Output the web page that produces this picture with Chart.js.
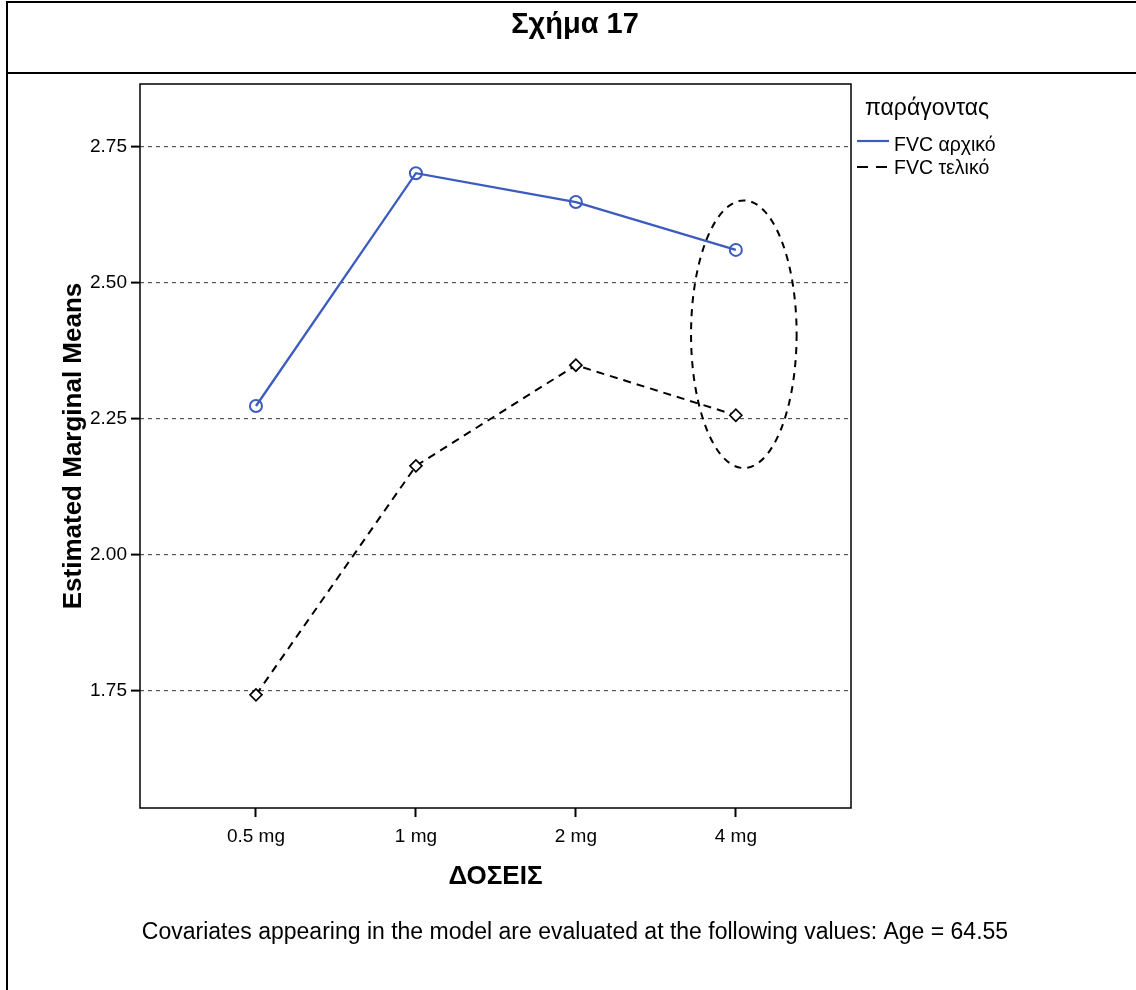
<!DOCTYPE html>
<html lang="el">
<head>
<meta charset="utf-8">
<title>Σχήμα 17</title>
<script src="https://cdn.jsdelivr.net/npm/chart.js@4.4.1/dist/chart.umd.min.js"></script>
<style>
  html, body { margin: 0; padding: 0; background: #fff; }
  canvas { display: block; }
</style>
</head>
<body>
<canvas id="emmChart" width="1136" height="990"></canvas>
<script>
// Estimated marginal means per dose, before / after
const doses = ['0.5 mg', '1 mg', '2 mg', '4 mg'];
const fvcInitial = [2.274, 2.702, 2.649, 2.561];
const fvcFinal = [1.743, 2.164, 2.349, 2.257];
const seriesNames = ['FVC αρχικό', 'FVC τελικό'];
const yTicks = [1.75, 2.00, 2.25, 2.50, 2.75];

// dashed ring drawn around the 4 mg pair (data units)
const highlight = { x: 3.05, y: 2.406, rx: 0.33, ry: 0.246 };

const FONT = 'Arial, "Liberation Sans", sans-serif';

const toPoints = vals => vals.map((v, i) => ({ x: i, y: v }));

const framePlugin = {
    id: 'frame',
    beforeDraw(chart) {
        const { ctx, width, height } = chart;
        ctx.save();
        ctx.fillStyle = '#fff';
        ctx.fillRect(0, 0, width, height);
        ctx.strokeStyle = '#000';
        ctx.lineWidth = 2;
        ctx.strokeRect(7, 2, width + 10, height + 10);
        ctx.beginPath();
        ctx.moveTo(7, 73);
        ctx.lineTo(width, 73);
        ctx.stroke();

        ctx.fillStyle = '#000';
        ctx.textAlign = 'center';
        ctx.textBaseline = 'middle';
        ctx.font = 'bold 29px ' + FONT;
        ctx.fillText('Σχήμα 17', 575, 25);
        ctx.font = '23px ' + FONT;
        ctx.fillText('Covariates appearing in the model are evaluated at the following values: Age = 64.55', 575, 933);
        ctx.restore();
    },
    afterDatasetsDraw(chart) {
        const { ctx, chartArea, scales } = chart;
        const cx = scales.x.getPixelForValue(highlight.x);
        const cy = scales.y.getPixelForValue(highlight.y);
        const rx = Math.abs(scales.x.getPixelForValue(highlight.x + highlight.rx) - cx);
        const ry = Math.abs(scales.y.getPixelForValue(highlight.y + highlight.ry) - cy);
        ctx.save();
        ctx.strokeStyle = '#000';
        ctx.lineWidth = 2;
        ctx.setLineDash([7, 6]);
        ctx.beginPath();
        ctx.ellipse(cx, cy, rx, ry, 0, 0, Math.PI * 2);
        ctx.stroke();
        ctx.restore();

        // box around the plot
        ctx.save();
        ctx.strokeStyle = '#000';
        ctx.lineWidth = 1.5;
        ctx.strokeRect(chartArea.left, chartArea.top, chartArea.right - chartArea.left, chartArea.bottom - chartArea.top);
        ctx.restore();
    },
    afterDraw(chart) {
        // legend at the right of the plot
        const { ctx, chartArea } = chart;
        const x0 = chartArea.right + 6;
        ctx.save();
        ctx.fillStyle = '#000';
        ctx.textAlign = 'left';
        ctx.textBaseline = 'middle';
        ctx.font = '23px ' + FONT;
        ctx.fillText('παράγοντας', x0 + 8, 109);
        ctx.font = '19.5px ' + FONT;
        chart.data.datasets.forEach((ds, i) => {
            const y = 141 + i * 26;
            ctx.strokeStyle = ds.borderColor;
            ctx.lineWidth = 2.2;
            ctx.setLineDash(i ? [11, 8] : []);
            ctx.beginPath();
            ctx.moveTo(x0, y);
            ctx.lineTo(x0 + 32, y);
            ctx.stroke();
            ctx.fillText(ds.label, x0 + 37, y + (i ? 2 : 5));
        });
        ctx.restore();
    }
};

new Chart(document.getElementById('emmChart'), {
    type: 'line',
    data: {
        datasets: [
            {
                label: seriesNames[0],
                data: toPoints(fvcInitial),
                borderColor: '#3b5bbf',
                borderWidth: 2.3,
                pointStyle: 'circle',
                pointRadius: 6,
                pointBorderWidth: 2,
                pointBackgroundColor: 'rgba(255,255,255,0)',
                pointBorderColor: '#3b5bbf',
                tension: 0
            },
            {
                label: seriesNames[1],
                data: toPoints(fvcFinal),
                borderColor: '#000',
                borderWidth: 2,
                borderDash: [8, 6],
                pointStyle: 'rectRot',
                pointRadius: 6,
                pointBorderWidth: 1.7,
                pointBackgroundColor: '#fff',
                pointBorderColor: '#000',
                tension: 0
            }
        ]
    },
    plugins: [framePlugin],
    options: {
        responsive: false,
        animation: false,
        layout: { padding: { top: 84, right: 285, bottom: 94, left: 40 } },
        plugins: {
            legend: { display: false },
            tooltip: { enabled: false }
        },
        scales: {
            x: {
                type: 'linear',
                min: -0.725,
                max: 3.72,
                afterFit: axis => { axis.height = 88; },
                afterBuildTicks: axis => { axis.ticks = doses.map((d, i) => ({ value: i })); },
                ticks: {
                    callback: v => doses[v],
                    color: '#000',
                    font: { family: FONT, size: 19 },
                    padding: 8
                },
                grid: {
                    drawOnChartArea: false,
                    drawTicks: true,
                    tickLength: 9,
                    tickColor: '#000',
                    tickWidth: 2
                },
                border: { display: false },
                title: {
                    display: true,
                    text: 'ΔΟΣΕΙΣ',
                    color: '#000',
                    font: { family: FONT, size: 26, weight: 'bold' },
                    padding: { top: 0, bottom: 4 }
                }
            },
            y: {
                min: 1.535,
                max: 2.866,
                afterFit: axis => { axis.width = 100; },
                afterBuildTicks: axis => { axis.ticks = yTicks.map(v => ({ value: v })); },
                ticks: {
                    callback: v => v.toFixed(2),
                    color: '#000',
                    font: { family: FONT, size: 19 },
                    padding: 4
                },
                grid: {
                    color: '#555',
                    lineWidth: 1.2,
                    drawTicks: true,
                    tickLength: 9,
                    tickColor: '#000',
                    tickWidth: 2,
                    tickBorderDash: []
                },
                border: { display: false, dash: [4, 4] },
                title: {
                    display: true,
                    text: 'Estimated Marginal Means',
                    color: '#000',
                    font: { family: FONT, size: 26, weight: 'bold' },
                    padding: { top: 18, bottom: 0 }
                }
            }
        }
    }
});
</script>
</body>
</html>
